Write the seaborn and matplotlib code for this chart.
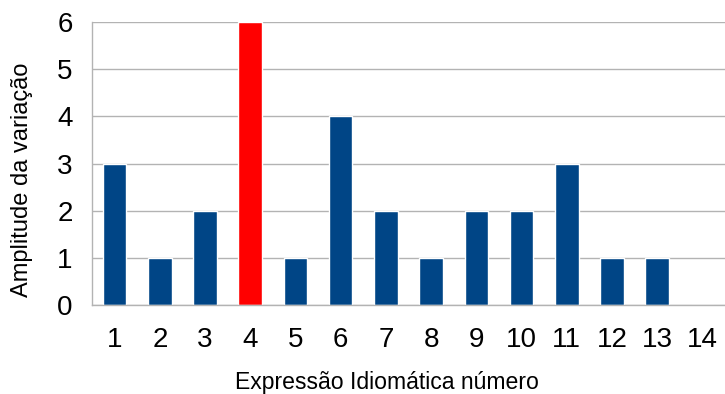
import matplotlib
matplotlib.use("Agg")
import matplotlib.pyplot as plt
import seaborn as sns
import pandas as pd
import numpy as np

categorias = [str(i) for i in range(1, 15)]
amplitude = [3, 1, 2, 6, 1, 4, 2, 1, 2, 2, 3, 1, 1, 0]
destaque = "4"

sns.set_style("white")
plt.rcParams["font.family"] = ["Liberation Sans", "DejaVu Sans"]
plt.rcParams["text.color"] = "black"
plt.rcParams["axes.labelcolor"] = "black"
plt.rcParams["xtick.labelcolor"] = "black"
plt.rcParams["ytick.labelcolor"] = "black"

df = pd.DataFrame({"expressao": categorias, "amplitude": amplitude})
df["grupo"] = np.where(df["expressao"] == destaque, "destaque", "normal")

fig = plt.figure(figsize=(7.25, 3.94), dpi=100)
ax = fig.add_axes([92 / 725, 1 - 305 / 394, 633 / 725, 283 / 394])

sns.barplot(data=df, x="expressao", y="amplitude", hue="grupo",
            palette={"normal": "#004586", "destaque": "#ff0000"},
            dodge=False, width=0.52, legend=False, ax=ax, saturation=1)

ax.set_xlim(-0.5, 13.5)
ax.set_ylim(0, 6)
ax.set_yticks(range(0, 7))
ax.yaxis.grid(True, color="#b3b3b3", linewidth=1)
ax.set_axisbelow(True)

for s in ["top", "right"]:
    ax.spines[s].set_visible(False)
for s in ["left", "bottom"]:
    ax.spines[s].set_color("#b3b3b3")
    ax.spines[s].set_linewidth(1)

# category separators below the axis
ax.set_xticks(np.arange(-0.5, 13.5, 1), minor=False)
ax.set_xticklabels([])
ax.tick_params(axis="x", which="major", length=11, color="#b3b3b3", width=1)
ax.set_xticks(np.arange(0, 14), minor=True)
ax.set_xticklabels(categorias, minor=True)
ax.tick_params(axis="x", which="minor", length=0, pad=16, labelsize=20,
               labelcolor="black")
ax.tick_params(axis="y", length=11, color="#b3b3b3", width=1, labelsize=20,
               pad=3, labelcolor="black")

ax.set_xlabel("Expressão Idiomática número", fontsize=16.6, labelpad=13,
              color="black")
ax.set_ylabel("Amplitude da variação", fontsize=17, labelpad=17, color="black")
ax.xaxis.label.set_x(0.466)
ax.yaxis.label.set_y(0.442)

fig.savefig("out.png", dpi=100)
